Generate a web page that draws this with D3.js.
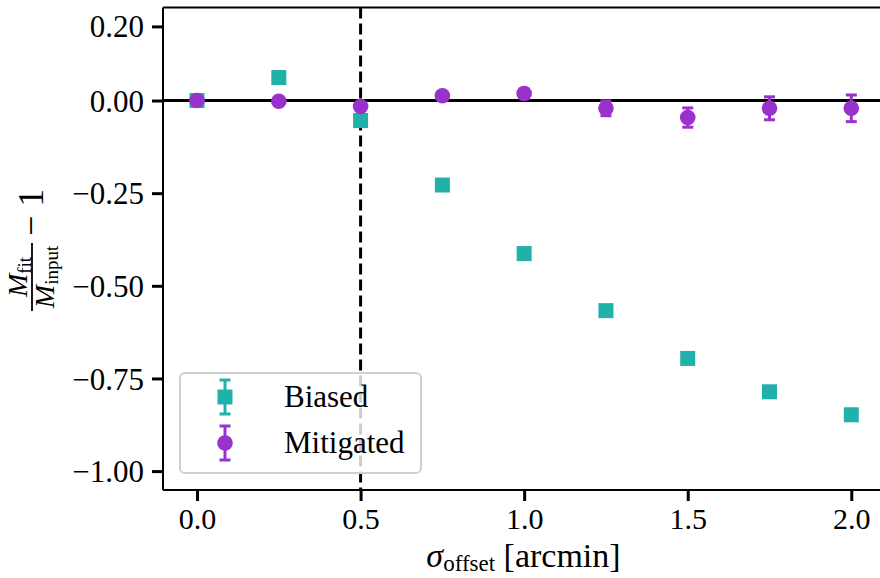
<!DOCTYPE html>
<html>
<head>
<meta charset="utf-8">
<script src="https://cdn.jsdelivr.net/npm/d3@7"></script>
<style>
  body { margin: 0; background: #fff; }
  svg text { font-family: "Liberation Serif", "Times New Roman", Times, "DejaVu Serif", serif; fill: #000; }
</style>
</head>
<body>
<div id="chart-area"></div>
<script>
// data
var offsets = [0.0, 0.25, 0.5, 0.75, 1.0, 1.25, 1.5, 1.75, 2.0];
var biased = [0.0, 0.062, -0.054, -0.228, -0.413, -0.567, -0.696, -0.786, -0.848];
var biasedErr = [0.004, 0.004, 0.004, 0.004, 0.004, 0.004, 0.004, 0.004, 0.004];
var mitigated = [0.0, -0.002, -0.016, 0.013, 0.019, -0.021, -0.046, -0.021, -0.021];
var mitigatedErr = [0.003, 0.003, 0.005, 0.008, 0.012, 0.02, 0.026, 0.031, 0.036];
var xTicks = [0.0, 0.5, 1.0, 1.5, 2.0];
var yTicks = [0.2, 0.0, -0.25, -0.5, -0.75, -1.0];
var seriesNames = ["Biased", "Mitigated"];
var seriesColors = ["#20b2aa", "#9932cc"];

var FONT = "'Liberation Serif', 'Times New Roman', Times, serif";

var W = 880, H = 578;
var margin = { left: 163, right: -4, top: 7.5, bottom: 88 };
var w = W - margin.left - margin.right;
var h = H - margin.top - margin.bottom;

var svg = d3.select("#chart-area").append("svg")
    .attr("width", W)
    .attr("height", H)
    .attr("font-family", FONT);

var group = svg.append("g")
    .attr("transform", "translate(" + margin.left + ", " + margin.top + ")");

var x = d3.scaleLinear().domain([-0.104, 2.1]).range([0, w]);
var y = d3.scaleLinear().domain([0.251, -1.051]).range([0, h]);

var fmtX = d3.format(".1f");
var fmtY = function (d) { return d3.format(".2f")(d).replace("-", "\u2212"); };

// reference lines
group.append("line")
    .attr("x1", 0).attr("x2", w)
    .attr("y1", y(0)).attr("y2", y(0))
    .attr("stroke", "#000").attr("stroke-width", 3);

group.append("line")
    .attr("x1", x(0.5)).attr("x2", x(0.5))
    .attr("y1", 0).attr("y2", h)
    .attr("stroke", "#000").attr("stroke-width", 3)
    .attr("stroke-dasharray", "11,5");

// error bars + markers
function drawSeries(vals, errs, color, shape) {
    var g = group.append("g");
    var rows = offsets.map(function (o, i) { return { x: o, y: vals[i], e: errs[i] }; });
    g.selectAll(".eb").data(rows).enter().append("line")
        .attr("x1", function (d) { return x(d.x); })
        .attr("x2", function (d) { return x(d.x); })
        .attr("y1", function (d) { return y(d.y + d.e); })
        .attr("y2", function (d) { return y(d.y - d.e); })
        .attr("stroke", color).attr("stroke-width", 3);
    [1, -1].forEach(function (s) {
        g.selectAll(".cap" + s).data(rows).enter().append("line")
            .attr("x1", function (d) { return x(d.x) - 5.5; })
            .attr("x2", function (d) { return x(d.x) + 5.5; })
            .attr("y1", function (d) { return y(d.y + s * d.e); })
            .attr("y2", function (d) { return y(d.y + s * d.e); })
            .attr("stroke", color).attr("stroke-width", 3);
    });
    if (shape === "square") {
        g.selectAll("rect").data(rows).enter().append("rect")
            .attr("x", function (d) { return x(d.x) - 7.5; })
            .attr("y", function (d) { return y(d.y) - 7.5; })
            .attr("width", 15).attr("height", 15)
            .attr("fill", color);
    } else {
        g.selectAll("circle").data(rows).enter().append("circle")
            .attr("cx", function (d) { return x(d.x); })
            .attr("cy", function (d) { return y(d.y); })
            .attr("r", 7.8)
            .attr("fill", color);
    }
}
drawSeries(biased, biasedErr, seriesColors[0], "square");
drawSeries(mitigated, mitigatedErr, seriesColors[1], "circle");

// axes
var bottom = d3.axisBottom(x).tickValues(xTicks).tickFormat(fmtX)
    .tickSize(11).tickPadding(8).tickSizeOuter(0);
var gx = group.append("g")
    .attr("transform", "translate(0, " + h + ")")
    .call(bottom);

var left = d3.axisLeft(y).tickValues(yTicks).tickFormat(fmtY)
    .tickSize(11).tickPadding(8).tickSizeOuter(0);
var gy = group.append("g").call(left);

[gx, gy].forEach(function (g) {
    g.attr("font-family", FONT);
    g.select(".domain").remove();
    g.selectAll(".tick line").attr("stroke", "#000").attr("stroke-width", 3);
    g.selectAll(".tick text").attr("font-size", "31px");
});
gy.selectAll(".tick text").attr("dy", "0.34em");
gx.selectAll(".tick text").attr("font-size", "30px").attr("dy", "0.68em");

// spines (right one is off canvas)
group.append("line").attr("x1", 0).attr("x2", 0).attr("y1", 0).attr("y2", h)
    .attr("stroke", "#000").attr("stroke-width", 2);
group.append("line").attr("x1", 0).attr("x2", w).attr("y1", h).attr("y2", h)
    .attr("stroke", "#000").attr("stroke-width", 2);
group.append("line").attr("x1", 0).attr("x2", w).attr("y1", 0).attr("y2", 0)
    .attr("stroke", "#000").attr("stroke-width", 2);

// legend
var lg = svg.append("g").attr("transform", "translate(180, 373)");
lg.append("rect")
    .attr("width", 241).attr("height", 100).attr("rx", 5)
    .attr("fill", "#fff").attr("fill-opacity", 0.8)
    .attr("stroke", "#d0d0d0").attr("stroke-width", 2);

seriesNames.forEach(function (name, i) {
    var cy = 24 + i * 46;
    var c = seriesColors[i];
    var item = lg.append("g").attr("transform", "translate(45, " + cy + ")");
    item.append("line").attr("x1", 0).attr("x2", 0).attr("y1", -17).attr("y2", 17)
        .attr("stroke", c).attr("stroke-width", 3);
    [-17, 17].forEach(function (yy) {
        item.append("line").attr("x1", -5.5).attr("x2", 5.5).attr("y1", yy).attr("y2", yy)
            .attr("stroke", c).attr("stroke-width", 3);
    });
    if (i === 0) {
        item.append("rect").attr("x", -7.5).attr("y", -7.5).attr("width", 15).attr("height", 15).attr("fill", c);
    } else {
        item.append("circle").attr("r", 7.8).attr("fill", c);
    }
    lg.append("text")
        .attr("x", 104).attr("y", cy + 10)
        .attr("font-size", "31px")
        .text(name);
});

// x axis label
var xl = svg.append("text")
    .attr("x", margin.left + w / 2)
    .attr("y", 567)
    .attr("text-anchor", "middle")
    .attr("font-size", "34px");
xl.append("tspan").attr("font-style", "italic").text("\u03c3");
xl.append("tspan").attr("font-size", "23px").attr("dy", "4").text("offset");
xl.append("tspan").attr("dy", "-4").text(" [arcmin]");

// y axis label: fraction M_fit / M_input − 1
var yl = svg.append("g").attr("transform", "translate(32, 277) rotate(-90)");
yl.append("line").attr("x1", -34).attr("x2", 34).attr("y1", 0).attr("y2", 0)
    .attr("stroke", "#000").attr("stroke-width", 1.8);
var num = yl.append("text").attr("x", 0).attr("y", -5).attr("text-anchor", "middle")
    .attr("font-size", "28px");
num.append("tspan").attr("font-style", "italic").text("M");
num.append("tspan").attr("font-size", "19px").attr("dy", "4").text("fit");
var den = yl.append("text").attr("x", 0).attr("y", 22).attr("text-anchor", "middle")
    .attr("font-size", "28px");
den.append("tspan").attr("font-style", "italic").text("M");
den.append("tspan").attr("font-size", "19px").attr("dy", "4").text("input");
yl.append("text").attr("x", 41).attr("y", 11).attr("font-size", "36px")
    .text("\u2212 1");
</script>
</body>
</html>
